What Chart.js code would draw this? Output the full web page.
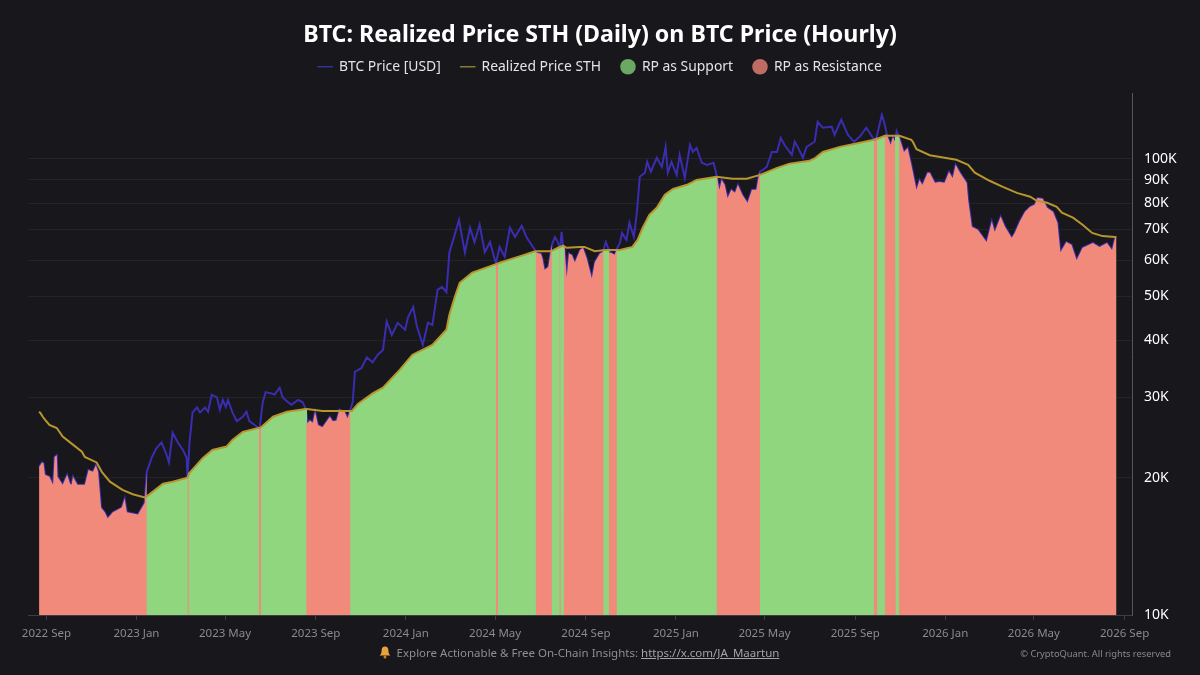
<!DOCTYPE html>
<html>
<head>
<meta charset="utf-8">
<title>BTC: Realized Price STH</title>
<script src="https://cdn.jsdelivr.net/npm/chart.js@4/dist/chart.umd.min.js"></script>
<style>
    html, body { margin: 0; padding: 0; background: #17171c; }
    #wrap { position: relative; width: 1200px; height: 675px; overflow: hidden; }
    #footer { position: absolute; left: 0; width: 1158px; top: 645px; text-align: center; color: #8f8f8f; font: 11.5px "Noto Sans", sans-serif; }
    #footer a { color: #a5a5a5; }
    #footer svg { vertical-align: -2px; margin-right: 3px; }
    #copyright { position: absolute; right: 29px; top: 647px; color: #8a8a8a; font: 9.3px "Noto Sans", sans-serif; }
</style>
</head>
<body>
<div id="wrap">
    <canvas id="rpChart" width="1200" height="675"></canvas>
    <div id="footer">
        <svg width="12" height="13" viewBox="0 0 12 13"><path d="M6 0.5c-2.2 0-3.4 1.6-3.4 3.9 0 2.8-0.9 3.9-2 5.2h10.8c-1.1-1.3-2-2.4-2-5.2C9.4 2.1 8.2 0.5 6 0.5z" fill="#e8a33d"/><circle cx="6" cy="11" r="1.5" fill="#c97f24"/></svg>
        Explore Actionable &amp; Free On-Chain Insights: <a href="https://x.com/JA_Maartun">https://x.com/JA_Maartun</a>
    </div>
    <div id="copyright">© CryptoQuant. All rights reserved</div>
</div>
<script>
const priceDays = [
    -10, -6, -4, -2, 4, 9, 11, 14, 15, 22, 28, 32, 34, 36, 42, 52, 57, 63, 67, 70, 74, 79, 83, 90, 102, 106, 109, 124, 133,
    136, 143, 149, 156, 163, 166, 171, 178, 185, 190, 191, 194, 198, 204, 208, 215, 219, 224, 231, 235, 239, 243, 246, 252,
    258, 266, 271, 275, 282, 286, 289, 293, 297, 305, 309, 316, 320, 327, 332, 341, 347, 351, 354, 357, 361, 364, 368, 374,
    384, 388, 393, 397, 404, 408, 411, 415, 418, 427, 434, 442, 449, 456, 461, 468, 476, 486, 490, 497, 502, 510, 517, 523,
    530, 536, 542, 546, 552, 559, 567, 574, 580, 587, 594, 601, 609, 614, 621, 628, 635, 644, 651, 662, 664, 670, 672, 675,
    680, 683, 685, 689, 693, 696, 698, 700, 702, 705, 708, 712, 716, 723, 727, 732, 739, 743, 750, 754, 758, 761, 765, 770,
    773, 777, 780, 784, 786, 790, 796, 800, 804, 811, 814, 819, 827, 834, 839, 842, 847, 854, 858, 865, 872, 876, 881, 888,
    895, 904, 908, 912, 915, 919, 923, 928, 933, 937, 943, 950, 956, 962, 965, 967, 971, 976, 983, 990, 995, 1000, 1010,
    1014, 1018, 1025, 1030, 1041, 1045, 1052, 1064, 1068, 1077, 1086, 1094, 1102, 1111, 1120, 1123, 1125, 1132, 1135, 1139,
    1144, 1147, 1150, 1152, 1156, 1162, 1167, 1172, 1179, 1183, 1187, 1194, 1197, 1204, 1210, 1217, 1223, 1228, 1232, 1238,
    1247, 1249, 1254, 1262, 1274, 1281, 1285, 1293, 1299, 1308, 1312, 1319, 1326, 1333, 1339, 1343, 1350, 1356, 1364, 1370,
    1374, 1382, 1389, 1396, 1404, 1418, 1427, 1437, 1444, 1448, 1450
];
const priceValues = [
    21100, 21600, 21500, 20300, 20100, 19300, 22200, 22400, 20100, 19300, 20300, 19400, 19300, 20100, 19300, 19300, 20800, 20600, 21300, 20600, 17200, 16800, 16300, 16800, 17200, 18000, 16800, 16600, 17600,
    20600, 22200, 23200, 23900, 22400, 21600, 25100, 23900, 23000, 22100, 19900, 24000, 27800, 28500, 27800, 28500, 27900, 30400, 30000, 28200, 29600, 28600, 29600, 27800,
    26600, 27200, 27900, 26600, 26100, 25800, 25700, 29200, 30800, 30600, 30400, 31500, 30000, 29300, 28900, 29600, 29300, 28400, 26400, 26700, 26400, 27900, 26100, 25800,
    27200, 26600, 26700, 28200, 27900, 27000, 27900, 29300, 34100, 34800, 36700, 35800, 37200, 38100, 44000, 41100, 43700, 42200, 45000, 47300, 42900, 39100, 43700, 43200,
    51600, 52400, 51000, 62300, 67100, 73500, 62300, 70600, 65700, 71700, 62400, 65700, 59000, 64100, 61000, 70600, 67400, 71300, 67100, 63100, 62200, 61900, 60600, 57100,
    57900, 62200, 64800, 67400, 65700, 63100, 69200, 64800, 64100, 55000, 62000, 61500, 59300, 63100, 63800, 60600, 54700, 59300, 62000, 62500, 65700, 63800, 62200, 61600,
    63500, 65400, 68800, 67100, 66400, 72400, 67400, 76100, 91300, 93200, 98500, 93700, 100500, 96000, 106200, 93200, 98500, 92200, 102000, 90800, 107300, 103500, 105600, 98000,
    97000, 98000, 92200, 85500, 90000, 87700, 82100, 85500, 84200, 87700, 83400, 80100, 85500, 85500, 91300, 93700, 94600, 96000, 103500, 103500, 111100, 107300, 102000,
    109000, 106200, 100500, 106200, 109000, 120500, 117000, 117600, 112900, 121800, 112900, 109000, 111700, 117000, 111100, 109500, 111700, 124900, 120500, 112900,
    107300, 111700, 109000, 114900, 111100, 103500, 105600, 97000, 85500, 89900, 87700, 93200, 93200, 88600, 89000, 88600, 93700, 90800, 97000, 93200,
    88600, 81300, 71000, 69900, 65700, 73000, 69200, 74700, 71000, 67100, 68800, 73000, 76500, 78500, 79300, 82100, 81700, 78100, 76500, 72400,
    62400, 65700, 64800, 60000, 63800, 65400, 64100, 65400, 63100, 67100, 67000
];
const realizedDays = [
    -10, -8, -5, -2, 4, 14, 22, 32, 48, 52, 68, 75, 86, 103, 117, 133, 136, 158, 171, 191, 194, 212, 225, 244, 252, 266, 287, 289, 292,
    307, 326, 351, 353, 374, 397, 414, 422, 442, 456, 479, 496, 523, 542, 546, 553, 560, 577, 608, 610, 613, 641, 662, 682, 686, 694, 698, 700, 705, 723,
    729, 743, 754, 759, 763, 772, 777, 794, 801, 808, 817, 827, 838, 849, 868, 881, 908, 930, 949, 967, 990, 1007, 1034, 1042, 1052, 1075,
    1120, 1127, 1136, 1150, 1154, 1156, 1172, 1174, 1179, 1197, 1233, 1249, 1258, 1278, 1296, 1315, 1333, 1342, 1356, 1369, 1376, 1391, 1404,
    1417, 1431, 1448, 1450
];
const realizedValues = [
    27900, 27700, 27200, 26800, 26100, 25700, 24600, 23900, 22800, 22200, 21600, 20600, 19600, 18800, 18400, 18100, 18200, 19400, 19600, 20000, 20500, 22100, 23000, 23400, 24200, 25200, 25700, 25700, 25900,
    27200, 27900, 28300, 28300, 28000, 28000, 28000, 29000, 30600, 31500, 34500, 37200, 39100, 42200, 45500, 49600, 53500, 56300, 58700, 58800, 59100, 61100, 62700, 62700, 63000, 63900, 64300, 64500, 63800, 64100,
    64100, 62700, 63000, 63100, 63100, 63100, 63100, 64100, 66400, 70600, 75400, 78100, 83400, 85900, 87700, 89900, 91300, 90400, 90400, 92200, 95500, 97600, 99000, 100500, 103500, 106200,
    110000, 110800, 112300, 112300, 112300, 112300, 110000, 109000, 105000, 101800, 99500, 97000, 93200, 89500, 86800, 84200, 82600, 80900, 80100, 78500, 76200, 74300, 71700,
    68800, 67700, 67400, 67400
];
// Stretches where price sits under the realized price, the rest is support
const resistanceZones = [
    [-10, 136], [191, 193], [288, 291], [352, 412], [609, 612], [663, 685], [695, 697], [701, 755],
    [762, 773], [908, 967], [1121, 1126], [1136, 1151], [1155, 1450]
];
const tickDays = [0, 122, 242, 365, 487, 608, 731, 853, 973, 1096, 1218, 1338, 1461];
const tickLabels = ['2022 Sep', '2023 Jan', '2023 May', '2023 Sep', '2024 Jan', '2024 May', '2024 Sep', '2025 Jan', '2025 May', '2025 Sep', '2026 Jan', '2026 May', '2026 Sep'];
const yTicks = [10000, 20000, 30000, 40000, 50000, 60000, 70000, 80000, 90000, 100000];

const FONT = '"Noto Sans", sans-serif';
const COLORS = {
    price: 'rgb(58, 45, 175)',
    realized: 'rgb(184, 150, 46)',
    support: 'rgb(143, 214, 127)',
    resistance: 'rgb(242, 138, 124)'
};

function nearestValue(days, values, day) {
    let best = 0;
    days.forEach(function(d, i) {
        if (Math.abs(d - day) < Math.abs(days[best] - day)) best = i;
    });
    return values[best];
}

// Turn a list of day ranges into one filled series, broken by nulls between ranges
function zoneSeries(zones, days, values) {
    const points = [];
    zones.forEach(function(zone) {
        const from = zone[0];
        const to = zone[1];
        const inside = [];
        days.forEach(function(d, i) {
            if (d >= from && d <= to) inside.push(i);
        });
        const first = inside.length ? values[inside[0]] : nearestValue(days, values, from);
        const last = inside.length ? values[inside[inside.length - 1]] : nearestValue(days, values, to);
        points.push({ x: from, y: first });
        inside.forEach(function(i) {
            points.push({ x: days[i], y: values[i] });
        });
        points.push({ x: to, y: last });
        points.push({ x: to, y: null });
    });
    return points;
}

// Support runs about a pixel under the red zones so no seam shows between the two fills
function supportZones() {
    const zones = [];
    for (let i = 0; i < resistanceZones.length - 1; i++) {
        zones.push([resistanceZones[i][1] - 1.4, resistanceZones[i + 1][0] + 1.4]);
    }
    return zones;
}

function toPoints(days, values) {
    return days.map(function(d, i) {
        return { x: d, y: values[i] };
    });
}

// Legend sits close under the title, with the empty band below it
const legendSpacing = {
    id: 'legendSpacing',
    beforeInit: function(chart) {
        const originalFit = chart.legend.fit;
        chart.legend.fit = function() {
            originalFit.call(this);
            this.height = 54;
        };
    }
};

new Chart(document.getElementById('rpChart').getContext('2d'), {
    type: 'line',
    plugins: [legendSpacing],
    data: {
        datasets: [
            {
                label: 'BTC Price [USD]',
                data: toPoints(priceDays, priceValues),
                yAxisID: 'y',
                borderColor: COLORS.price,
                borderWidth: 2,
                order: 4
            },
            {
                label: 'Realized Price STH',
                data: toPoints(realizedDays, realizedValues),
                yAxisID: 'y',
                borderColor: COLORS.realized,
                borderWidth: 2,
                order: 1
            },
            {
                label: 'RP as Support',
                data: zoneSeries(supportZones(), realizedDays, realizedValues),
                yAxisID: 'y',
                borderWidth: 0,
                backgroundColor: COLORS.support,
                fill: 'start',
                order: 3
            },
            {
                label: 'RP as Resistance',
                data: zoneSeries(resistanceZones, priceDays, priceValues),
                yAxisID: 'y',
                borderWidth: 0,
                backgroundColor: COLORS.resistance,
                fill: 'start',
                order: 2
            }
        ]
    },
    options: {
        responsive: false,
        animation: false,
        elements: {
            point: { radius: 0 },
            line: { tension: 0 }
        },
        plugins: {
            tooltip: { enabled: false },
            title: {
                display: true,
                text: 'BTC: Realized Price STH (Daily) on BTC Price (Hourly)',
                color: '#ffffff',
                font: { family: FONT, size: 23.2, weight: 'bold' },
                padding: { top: 21, bottom: -9 }
            },
            legend: {
                display: true,
                position: 'top',
                labels: {
                    color: '#e4e4e4',
                    font: { family: FONT, size: 13.9 },
                    usePointStyle: true,
                    boxHeight: 11,
                    padding: 20,
                    generateLabels: function() {
                        return [
                            { text: 'BTC Price [USD]', pointStyle: 'line', strokeStyle: '#35309a', fillStyle: '#35309a', lineWidth: 1.5, fontColor: '#e4e4e4' },
                            { text: 'Realized Price STH', pointStyle: 'line', strokeStyle: '#8c7a34', fillStyle: '#8c7a34', lineWidth: 1.5, fontColor: '#e4e4e4' },
                            { text: 'RP as Support', pointStyle: 'circle', strokeStyle: '#6aa864', fillStyle: '#6aa864', lineWidth: 0, fontColor: '#e4e4e4' },
                            { text: 'RP as Resistance', pointStyle: 'circle', strokeStyle: '#bf6c64', fillStyle: '#bf6c64', lineWidth: 0, fontColor: '#e4e4e4' }
                        ];
                    }
                }
            }
        },
        scales: {
            x: {
                type: 'linear',
                min: -25,
                max: 1471,
                afterBuildTicks: function(scale) {
                    scale.ticks = tickDays.map(function(d) { return { value: d }; });
                },
                afterFit: function(scale) { scale.height = 60; },
                grid: { drawOnChartArea: false, color: '#3c3c42', tickLength: 5 },
                border: { color: 'rgba(255, 255, 255, 0.12)' },
                ticks: {
                    color: '#8b8b8b',
                    font: { family: FONT, size: 11.5 },
                    padding: 7,
                    maxRotation: 0,
                    autoSkip: false,
                    callback: function(value, index) { return tickLabels[index]; }
                }
            },
            // empty axis, only keeps the plot off the left edge while the title stays centred
            yLeft: {
                type: 'linear',
                position: 'left',
                min: 0,
                max: 1,
                afterFit: function(scale) { scale.width = 28; },
                grid: { display: false },
                border: { display: false },
                ticks: { display: false }
            },
            y: {
                type: 'logarithmic',
                position: 'right',
                min: 10000,
                max: 138800,
                afterBuildTicks: function(scale) {
                    scale.ticks = yTicks.map(function(v) { return { value: v }; });
                },
                afterFit: function(scale) { scale.width = 68; },
                grid: { color: 'rgba(255, 255, 255, 0.055)', drawTicks: false },
                border: { color: '#55555b' },
                ticks: {
                    color: '#ffffff',
                    font: { family: FONT, size: 14 },
                    padding: 12,
                    autoSkip: false,
                    callback: function(value) { return (value / 1000) + 'K'; }
                }
            }
        }
    }
});
</script>
</body>
</html>
